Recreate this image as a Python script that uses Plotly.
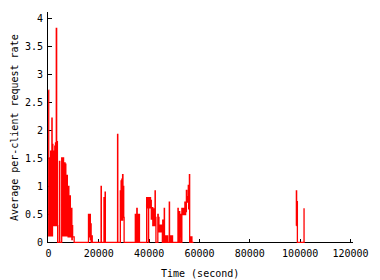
import plotly.graph_objects as go

# ---- data: first recorded period (time in seconds, average per-client request rate)
seg1_time = [
    0, 100, 250, 400, 550, 700, 850, 1000, 1150, 1300, 1350, 1450, 1600, 1750, 1900, 2050,
    2200, 2350, 2500, 2650, 2800, 2950, 3100, 3250, 3400, 3550, 3650, 4200, 4350, 4500,
    5100, 5250, 5400, 5550, 5700, 5850, 6000, 6150, 6300, 6450, 6600, 6750, 6900, 7050,
    7200, 7350, 7500, 7650, 7800, 7950, 8100, 8250, 8400, 8550, 8700, 8850, 9000, 9150,
    9300, 9450, 9600, 10100, 10200,
    15800, 15900, 16050, 16200, 16350, 16500, 16650, 16800, 16950, 17100, 17300, 17400,
    20800, 20900, 21000, 21950, 22050, 22150, 22400, 22500, 22600, 27350, 27450, 27550,
    28400, 28550, 28700, 28850, 29000, 29150, 29300, 29450, 29600, 29750, 29900, 30050,
    34400, 34500, 34650, 34800, 34950, 35100, 35250, 35400, 35550, 35700, 35850, 36000,
    36150, 38900, 39000, 39150, 39300, 39450, 39600, 39700, 39800, 39950, 40100, 40250,
    40400, 40550, 40700, 40850, 41000, 41150, 41300, 41450, 41600, 41750, 41900, 42050,
    42200, 42350, 42450, 42600, 42700, 43300, 43450, 43600, 43750, 43900, 44050, 44200,
    44350, 44500, 44650, 44800, 44950, 45100, 45250, 45400, 45500, 45650, 45800, 46000,
    46100, 46500, 46600, 46750, 46900, 47050, 47200, 47350, 47900, 48000, 48100, 48250,
    48400, 48550, 48700, 48850, 49000, 49150, 49300,
    51300, 51450, 51550, 51700, 51850, 52000, 52150, 52300, 52450, 52550, 52900, 53000,
    53150, 53300, 53450, 53600, 53750, 53900, 54050, 54200, 54350, 54500, 54650, 54800,
    54950, 55100, 55250, 55400, 55550, 55700, 55850, 56000, 56100, 56250, 56400, 56550,
    56700, 56850, 57000, 57600,
]
seg1_rate = [
    2.72, 0.12, 1.51, 0.12, 1.33, 0.12, 1.63, 0.12, 1.33, 0.12, 2.22, 0.12, 1.75, 0.3, 1.57, 0.3,
    1.63, 0.3, 1.72, 0.3, 1.78, 0.3, 3.82, 0.3, 1.8, 0.3, 0, 0, 1.45, 0,
    0, 1.51, 0.12, 1.4, 0.12, 1.51, 0.12, 1.35, 0.12, 1.42, 0.12, 1.4, 0.12, 1.13,
    0.12, 1.2, 0.12, 1.0, 0.1, 1.0, 0.1, 0.8, 0.1, 0.83, 0.1, 0.61, 0.1, 0.61,
    0.05, 0.3, 0.1, 0.1, 0,
    0, 0.5, 0.1, 0.5, 0.1, 0.5, 0.05, 0.33, 0, 0.12, 0.12, 0,
    0, 1.0, 0, 0, 0.8, 0, 0, 0.9, 0, 0, 1.93, 0,
    0, 0.92, 0.45, 1.1, 0.4, 1.13, 0.4, 1.21, 0.45, 1.0, 0.45, 0,
    0, 0.5, 0, 0.5, 0, 0.61, 0, 0.5, 0, 0.5, 0, 0.5,
    0, 0, 0.8, 0.62, 0.8, 0.62, 0.7, 0, 0.8, 0.62, 0.8, 0.62,
    0.8, 0.62, 0.75, 0.42, 0.62, 0.42, 0.62, 0.3, 0.55, 0.3, 0.6, 0.3,
    0.55, 0.92, 0.3, 0.45, 0, 0, 0.5, 0.2, 0.45, 0.19, 0.31, 0.19,
    0.31, 0.19, 0.31, 0.19, 0.31, 0.2, 0, 0.4, 0.1, 0.3, 0, 0.61,
    0, 0, 0.12, 0, 0.12, 0, 0.12, 0, 0, 0.72, 0, 0.12,
    0, 0.12, 0, 0.12, 0, 0.12, 0,
    0, 0.61, 0, 0.36, 0, 0.55, 0.1, 0.36, 0.5, 0, 0, 0.61,
    0.5, 0.61, 0.5, 0.61, 0.5, 0.61, 0.5, 0.72, 0.5, 0.72, 0.55, 0.93,
    0.72, 0.82, 0.72, 0.82, 1.02, 0.6, 0.9, 1.21, 0, 0.1, 0, 0.1,
    0, 0.1, 0, 0,
]

# ---- data: second recorded period
seg2_time = [98450, 98500, 98600, 98750, 98900, 101500, 101550]
seg2_rate = [0.3, 0.92, 0.35, 0.73, 0, 0, 0.61]

x_tick_vals = [0, 20000, 40000, 60000, 80000, 100000, 120000]
x_tick_text = ["0", "20000", "40000", "60000", "80000", "100000", "120000"]
y_tick_vals = [0, 0.5, 1, 1.5, 2, 2.5, 3, 3.5, 4]
y_tick_text = ["0", "0.5", "1", "1.5", "2", "2.5", "3", "3.5", "4"]

x_all = seg1_time + [None] + seg2_time
y_all = seg1_rate + [None] + seg2_rate

FONT = "DejaVu Sans Mono"

fig = go.Figure()
fig.add_trace(go.Scatter(
    x=x_all, y=y_all, mode="lines",
    line=dict(color="#ff0000", width=1.3, shape="hv"),
    connectgaps=False, hoverinfo="skip", showlegend=False,
))

fig.update_layout(
    width=380, height=280,
    margin=dict(l=48, r=18, t=12, b=37, pad=0),
    paper_bgcolor="white", plot_bgcolor="white",
    font=dict(family=FONT, size=10, color="black"),
    showlegend=False,
)
fig.update_xaxes(
    range=[-190, 121000], showgrid=False,
    showline=False, zeroline=False,
    ticks="inside", ticklen=4, tickwidth=1, tickcolor="black",
    tickvals=x_tick_vals, ticktext=x_tick_text,
    tickfont=dict(family=FONT, size=10, color="black"),
    ticklabelstandoff=3,
    layer="below traces",
)
fig.update_yaxes(
    range=[-0.0089, 4.115], showgrid=False,
    showline=True, linecolor="black", linewidth=1,
    zeroline=True, zerolinecolor="black", zerolinewidth=1,
    ticks="inside", ticklen=4, tickwidth=1, tickcolor="black",
    tickvals=y_tick_vals, ticktext=y_tick_text,
    tickfont=dict(family=FONT, size=10, color="black"),
    ticklabelstandoff=2,
    layer="below traces",
)
fig.add_annotation(
    text="Time (second)", xref="paper", yref="paper",
    x=0.497, y=-0.13, xanchor="center", yanchor="middle",
    showarrow=False, font=dict(family=FONT, size=10, color="black"),
)
fig.add_annotation(
    text="Average per-client request rate", xref="paper", yref="paper",
    x=-0.11, y=0.5, xanchor="center", yanchor="middle", textangle=-90,
    showarrow=False, font=dict(family=FONT, size=10, color="black"),
)

fig.write_html("out.html")
